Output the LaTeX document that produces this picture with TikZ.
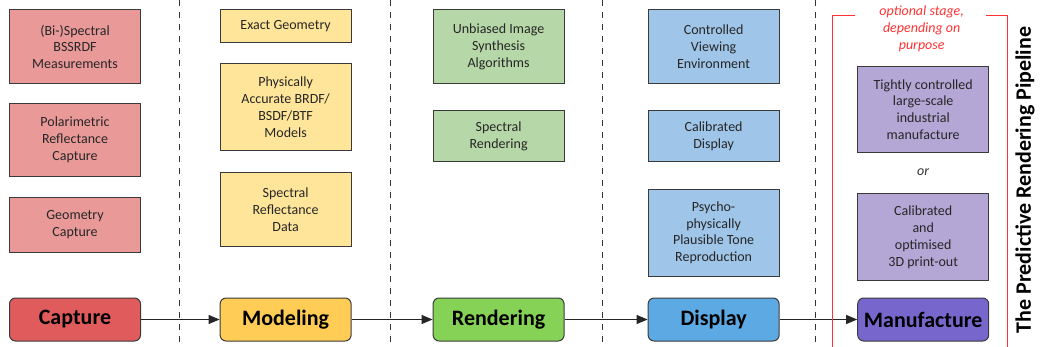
\documentclass[tikz,border=0pt]{standalone}
\usepackage{fontspec}
\setmainfont{Carlito}
\usepackage{xcolor}
\usetikzlibrary{arrows.meta, positioning}

\definecolor{capdark}{HTML}{E05C5C}
\definecolor{caplight}{HTML}{EA9999}
\definecolor{moddark}{HTML}{FFCC55}
\definecolor{modlight}{HTML}{FFE599}
\definecolor{renddark}{HTML}{86D256}
\definecolor{rendlight}{HTML}{B6D7A8}
\definecolor{dispdark}{HTML}{5DA9E3}
\definecolor{displight}{HTML}{9FC5E8}
\definecolor{mandark}{HTML}{7766CC}
\definecolor{manlight}{HTML}{B4A7D6}
\definecolor{boxline}{HTML}{3A3A3A}
\definecolor{optred}{HTML}{FF3333}

\begin{document}
\begin{tikzpicture}[
    x=1pt, y=-1pt,
    stage/.style={rectangle, draw=boxline, line width=1pt, rounded corners=6pt, minimum width=131pt, minimum height=43pt, font=\fontsize{22}{26}\selectfont\bfseries},
    detail/.style={rectangle, draw=boxline, line width=1pt, minimum width=131pt, align=center, inner sep=2pt, text=black!85, font=\fontsize{14}{16.8}\selectfont},
    arrow/.style={-{Triangle[length=11pt, width=9pt]}, line width=1pt, black!85},
    divider/.style={dash pattern=on 6pt off 6pt, line width=1pt, black!80},
    note/.style={font=\fontsize{14}{16.8}\selectfont\itshape, align=center}
]
\useasboundingbox (0,0) rectangle (1041,347);

% Pipeline stages
\node[stage, fill=capdark] (capture) at (75,319.5) {Capture};
\node[stage, fill=moddark, right=78.6pt of capture] (modeling) {Modeling};
\node[stage, fill=renddark, right=81pt of modeling] (rendering) {Rendering};
\node[stage, fill=dispdark, right=83pt of rendering] (display) {Display};
\node[stage, fill=mandark, right=77.6pt of display] (manufacture) {Manufacture};

\draw[arrow] (capture) -- (modeling);
\draw[arrow] (modeling) -- (rendering);
\draw[arrow] (rendering) -- (display);
\draw[arrow] (display) -- (manufacture);

\coordinate (toprow) at (0,9.3);

% Capture column
\node[detail, fill=caplight, minimum height=74pt, anchor=north] (bssrdf) at (capture |- toprow) {(Bi-)Spectral\\BSSRDF\\Measurements};
\node[detail, fill=caplight, minimum height=73pt, below=18.4pt of bssrdf] (polar) {Polarimetric\\Reflectance\\Capture};
\node[detail, fill=caplight, minimum height=55pt, below=20pt of polar] (geocap) {Geometry\\Capture};

% Modeling column
\node[detail, fill=modlight, minimum height=33pt, anchor=north] (exactgeo) at (modeling |- toprow) {Exact Geometry};
\node[detail, fill=modlight, minimum height=87pt, below=20pt of exactgeo] (brdf) {Physically\\Accurate BRDF/\\BSDF/BTF\\Models};
\node[detail, fill=modlight, minimum height=74pt, below=20.7pt of brdf] (specdata) {Spectral\\Reflectance\\Data};

% Rendering column
\node[detail, fill=rendlight, minimum height=74pt, anchor=north] (unbiased) at (rendering |- toprow) {Unbiased Image\\Synthesis\\Algorithms};
\node[detail, fill=rendlight, minimum height=51pt, below=25.7pt of unbiased] (specrend) {Spectral\\Rendering};

% Display column
\node[detail, fill=displight, minimum height=74pt, anchor=north] (viewing) at (display |- toprow) {Controlled\\Viewing\\Environment};
\node[detail, fill=displight, minimum height=51pt, below=25.7pt of viewing] (caldisp) {Calibrated\\Display};
\node[detail, fill=displight, minimum height=87.3pt, below=26.7pt of caldisp] (tone) {Psycho-\\physically\\Plausible Tone\\Reproduction};

% Manufacture column (optional)
\node[note, text=optred] (optnote) at (921.7,29) {optional stage,\\depending on\\purpose};
\node[detail, fill=manlight, minimum height=86.6pt, anchor=north] (industrial) at (manufacture |- 0,65.7) {Tightly controlled\\large-scale\\industrial\\manufacture};
\node[note, text=black!80, below=15pt of industrial, inner sep=0pt] (ortext) {or};
\node[detail, fill=manlight, minimum height=86.7pt, below=40pt of industrial] (printout) {Calibrated\\and\\optimised\\3D print-out};

% Red bracket round the optional stage
\coordinate (bracketL) at (832.3,15.7);
\coordinate (bracketR) at (1007.7,15.7);
\draw[optred, line width=1.5pt] (bracketL |- 0,347) -- (bracketL) -- (855,15.7);
\draw[optred, line width=1.5pt] (985.7,15.7) -- (bracketR) -- (bracketR |- 0,347);

% Dividers between the stages
\foreach \xd in {179,390.7,602.7,815}
    \draw[divider] (\xd,0) -- (\xd,347);

% Title
\node[rotate=90, font=\fontsize{22}{26}\selectfont\bfseries] (title) at (1025,180) {The Predictive Rendering Pipeline};

\end{tikzpicture}
\end{document}
